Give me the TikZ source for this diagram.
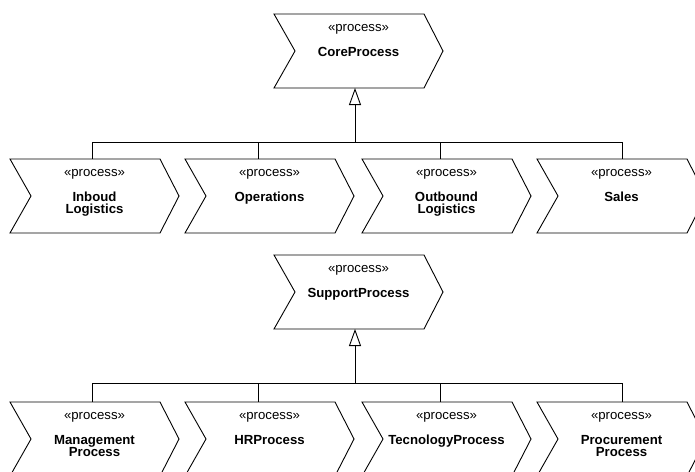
\documentclass[tikz,border=0pt]{standalone}
\usepackage{fontspec}
\setmainfont{Liberation Sans}
\usetikzlibrary{arrows.meta}
\tikzset{
  boxarea/.style={rectangle, minimum width=169pt, minimum height=74pt, inner sep=0pt, outer sep=0pt},
  chev/.style={draw=black, line width=0.9pt, line join=miter, fill=white},
  stereo/.style={anchor=base, inner sep=0pt, font=\fontsize{13.2}{15}\selectfont},
  nm/.style={anchor=base, inner sep=0pt, font=\fontsize{13.2}{15}\selectfont\bfseries},
  wire/.style={draw=black, line width=0.9pt},
  gen/.style={wire, -{Triangle[open, length=17pt, width=12pt, line width=0.9pt]}}
}
\newcommand\procbox[4]{%
  \node[boxarea] (#1) at (#2+84.5, #3+37) {};
  \draw[chev] (#1.north west) -- ([xshift=-19pt]#1.north east) -- (#1.east)
     -- ([xshift=-19pt]#1.south east) -- (#1.south west) -- ([xshift=21pt]#1.west) -- cycle;
  \node[stereo] (#1-st) at (#2+84.5, #3+17) {«process»};
  \node[nm] (#1-n1) at (#2+84.5, #3+42) {#4};
}
\begin{document}
\begin{tikzpicture}[x=1pt, y=-1pt]
\fill[white] (0,0) rectangle (695,471);
\useasboundingbox (0,0) rectangle (695,471);
\clip (0,0) rectangle (695,471);

% ---- Core group ----
\procbox{core}{274}{14}{CoreProcess}
\procbox{inb}{10}{159}{Inboud}
\node[nm] (inb-n2) at (94.5, 213.5) {Logistics};
\procbox{ops}{185}{159}{Operations}
\procbox{outb}{362}{159}{Outbound}
\node[nm] (outb-n2) at (446.5, 213.5) {Logistics};
\procbox{sales}{537}{159}{Sales}

\coordinate (jc1) at (355,142);
\coordinate (j11) at (92,142);
\coordinate (j12) at (258,142);
\coordinate (j13) at (440,142);
\coordinate (j14) at (622,142);
\draw[wire] (j11) -- (j14);
\draw[wire] (j11) -- (j11 |- inb.north);
\draw[wire] (j12) -- (j12 |- ops.north);
\draw[wire] (j13) -- (j13 |- outb.north);
\draw[wire] (j14) -- (j14 |- sales.north);
\draw[gen] (jc1) -- (jc1 |- core.south);

% ---- Support group ----
\procbox{supp}{274}{255}{SupportProcess}
\procbox{mgmt}{10}{402}{Management}
\node[nm] (mgmt-n2) at (94.5, 456.5) {Process};
\procbox{hr}{185}{402}{HRProcess}
\procbox{tech}{362}{402}{TecnologyProcess}
\procbox{proc}{537}{402}{Procurement}
\node[nm] (proc-n2) at (621.5, 456.5) {Process};

\coordinate (jc2) at (355,383);
\coordinate (j21) at (92,383);
\coordinate (j22) at (258,383);
\coordinate (j23) at (440,383);
\coordinate (j24) at (622,383);
\draw[wire] (j21) -- (j24);
\draw[wire] (j21) -- (j21 |- mgmt.north);
\draw[wire] (j22) -- (j22 |- hr.north);
\draw[wire] (j23) -- (j23 |- tech.north);
\draw[wire] (j24) -- (j24 |- proc.north);
\draw[gen] (jc2) -- (jc2 |- supp.south);
\end{tikzpicture}
\end{document}
